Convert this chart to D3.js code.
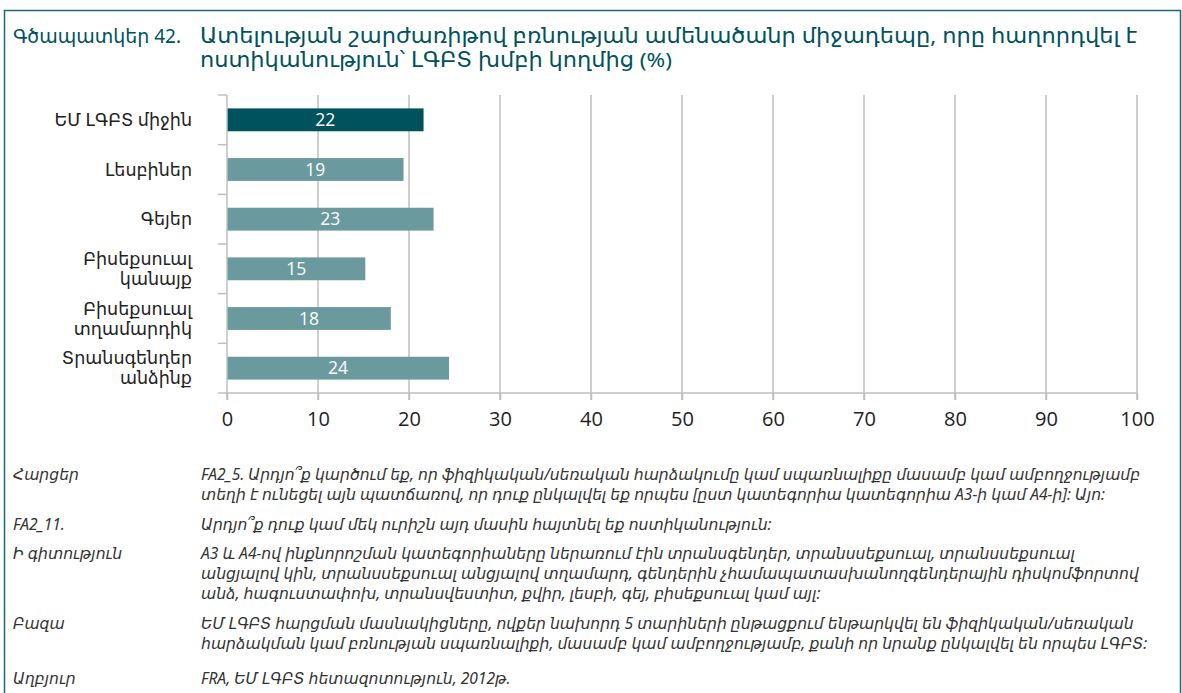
<!DOCTYPE html>
<html>
<head>
<meta charset="utf-8">
<script src="https://cdn.jsdelivr.net/npm/d3@7"></script>
<style>
  body { margin: 0; background: #fff; }
  svg { display: block; }
  text { font-family: "Noto Sans", "DejaVu Sans", sans-serif; }
</style>
</head>
<body>
<div id="chart"></div>
<script>
// data
const categories = ["ԵՄ ԼԳԲՏ միջին", "Լեսբիներ", "Գեյեր", "Բիսեքսուալ\nկանայք", "Բիսեքսուալ\nտղամարդիկ", "Տրանսգենդեր\nանձինք"];
const values = [21.6, 19.4, 22.7, 15.2, 18.0, 24.4];
const valueLabels = ["22", "19", "23", "15", "18", "24"];
const xTicks = [0, 10, 20, 30, 40, 50, 60, 70, 80, 90, 100];

const figNo = "Գծապատկեր 42.";
const titleLines = ["Ատելության շարժառիթով բռնության ամենածանր միջադեպը, որը հաղորդվել է",
                    "ոստիկանություն՝ ԼԳԲՏ խմբի կողմից (%)"];

const noteLabels = ["Հարցեր", "FA2_11.", "Ի գիտություն", "Բազա", "Աղբյուր"];
const noteTexts = [
  ["FA2_5. Արդյո՞ք կարծում եք, որ ֆիզիկական/սեռական հարձակումը կամ սպառնալիքը մասամբ կամ ամբողջությամբ",
   "տեղի է ունեցել այն պատճառով, որ դուք ընկալվել եք որպես [ըստ կատեգորիա կատեգորիա A3-ի կամ A4-ի]: Այո:"],
  ["Արդյո՞ք դուք կամ մեկ ուրիշն այդ մասին հայտնել եք ոստիկանություն:"],
  ["A3 և A4-ով ինքնորոշման կատեգորիաները ներառում էին տրանսգենդեր, տրանսսեքսուալ, տրանսսեքսուալ",
   "անցյալով կին, տրանսսեքսուալ անցյալով տղամարդ, գենդերին չհամապատասխանողգենդերային դիսկոմֆորտով",
   "անձ, հագուստափոխ, տրանսվեստիտ, քվիր, լեսբի, գեյ, բիսեքսուալ կամ այլ:"],
  ["ԵՄ ԼԳԲՏ հարցման մասնակիցները, ովքեր նախորդ 5 տարիների ընթացքում ենթարկվել են ֆիզիկական/սեռական",
   "հարձակման կամ բռնության սպառնալիքի, մասամբ կամ ամբողջությամբ, քանի որ նրանք ընկալվել են որպես ԼԳԲՏ:"],
  ["FRA, ԵՄ ԼԳԲՏ հետազոտություն, 2012թ."]
];
const noteY = [480, 530, 559, 629, 684];

const width = 1182, height = 693;
const teal = "#00535c", barLight = "#6b9a9e", grid = "#bfbfbf";

const svg = d3.select("#chart").append("svg")
  .attr("width", width)
  .attr("height", height);

// frame
svg.append("path")
  .attr("d", "M4.5," + height + " V10.5 H1180.5 V" + height)
  .attr("fill", "none")
  .attr("stroke", "#1b6b73")
  .attr("stroke-width", 1.5);

// title
svg.append("text")
  .attr("x", 13).attr("y", 43)
  .attr("fill", teal)
  .style("font-size", "19px")
  .text(figNo);

svg.selectAll("text.title")
  .data(titleLines)
  .join("text")
    .attr("class", "title")
    .attr("x", 200)
    .attr("y", (d, i) => 43 + i * 24)
    .attr("fill", teal)
    .style("font-size", "20.5px")
    .attr("textLength", (d, i) => i == 0 ? 937 : 472)
    .attr("lengthAdjust", "spacingAndGlyphs")
    .text(d => d);

// chart
const x = d3.scaleLinear().domain([0, 100]).range([227, 1137]);
const y = d3.scaleBand().domain(categories).range([95, 393]).paddingInner(0.54).paddingOuter(0.27);
const yb = d3.scaleBand().domain(categories).range([95, 393]);

const g = svg.append("g");

// vertical grid lines
g.selectAll("line.grid")
  .data(xTicks.filter(d => d > 0))
  .join("line")
    .attr("class", "grid")
    .attr("x1", d => x(d)).attr("x2", d => x(d))
    .attr("y1", 95).attr("y2", 400)
    .attr("stroke", grid)
    .attr("stroke-width", 1.5);

// bars
g.selectAll("rect.bar")
  .data(categories)
  .join("rect")
    .attr("class", "bar")
    .attr("x", x(0))
    .attr("y", d => y(d))
    .attr("width", (d, i) => x(values[i]) - x(0))
    .attr("height", y.bandwidth())
    .attr("fill", (d, i) => i == 0 ? teal : barLight);

g.selectAll("text.val")
  .data(categories)
  .join("text")
    .attr("class", "val")
    .attr("x", (d, i) => (x(0) + x(values[i])) / 2)
    .attr("y", d => y(d) + y.bandwidth() / 2)
    .attr("dy", "0.36em")
    .attr("text-anchor", "middle")
    .attr("fill", "#fff")
    .style("font-size", "17.5px")
    .style("font-family", "'Open Sans', 'Noto Sans', sans-serif")
    .text((d, i) => valueLabels[i]);

// x axis
const xAxis = d3.axisBottom(x).tickValues(xTicks).tickSize(7).tickPadding(12);
const xa = svg.append("g")
  .attr("transform", "translate(0,393)")
  .call(xAxis);
xa.select(".domain").attr("stroke", grid).attr("stroke-width", 1.5).attr("d", "M218,0H1137");
xa.selectAll(".tick line").attr("stroke", grid).attr("stroke-width", 1.5);
xa.selectAll(".tick text")
  .attr("fill", "#222")
  .style("font-size", "20px")
  .style("font-family", "'Open Sans', 'Noto Sans', sans-serif");

// y axis line with category boundary ticks
const ya = svg.append("g");
ya.append("line")
  .attr("x1", x(0)).attr("x2", x(0))
  .attr("y1", 95).attr("y2", 400)
  .attr("stroke", grid).attr("stroke-width", 1.5);
ya.selectAll("line.ytick")
  .data(categories)
  .join("line")
    .attr("class", "ytick")
    .attr("x1", 218).attr("x2", x(0))
    .attr("y1", d => yb(d)).attr("y2", d => yb(d))
    .attr("stroke", grid).attr("stroke-width", 1.5);

// category labels
ya.selectAll("text.cat")
  .data(categories)
  .join("text")
    .attr("class", "cat")
    .attr("text-anchor", "end")
    .attr("fill", "#222")
    .style("font-size", "17.5px")
    .each(function(d) {
      const lines = d.split("\n");
      const cy = yb(d) + yb.bandwidth() / 2;
      d3.select(this).selectAll("tspan")
        .data(lines)
        .join("tspan")
          .attr("x", 192)
          .attr("y", (l, i) => cy + (i - (lines.length - 1) / 2) * 20)
          .attr("dy", "0.35em")
          .text(l => l);
    });

// notes
const notes = svg.append("g")
  .style("font-style", "italic")
  .style("font-size", "15.6px")
  .attr("fill", "#333");

notes.selectAll("text.nlabel")
  .data(noteLabels)
  .join("text")
    .attr("class", "nlabel")
    .attr("x", 13)
    .attr("y", (d, i) => noteY[i])
    .text(d => d);

notes.selectAll("g.ntext")
  .data(noteTexts)
  .join("g")
    .attr("class", "ntext")
    .each(function(lines, j) {
      d3.select(this).selectAll("text")
        .data(lines)
        .join("text")
          .attr("x", 201)
          .attr("y", (l, i) => noteY[j] + i * 20)
          .text(l => l);
    });
</script>
</body>
</html>
